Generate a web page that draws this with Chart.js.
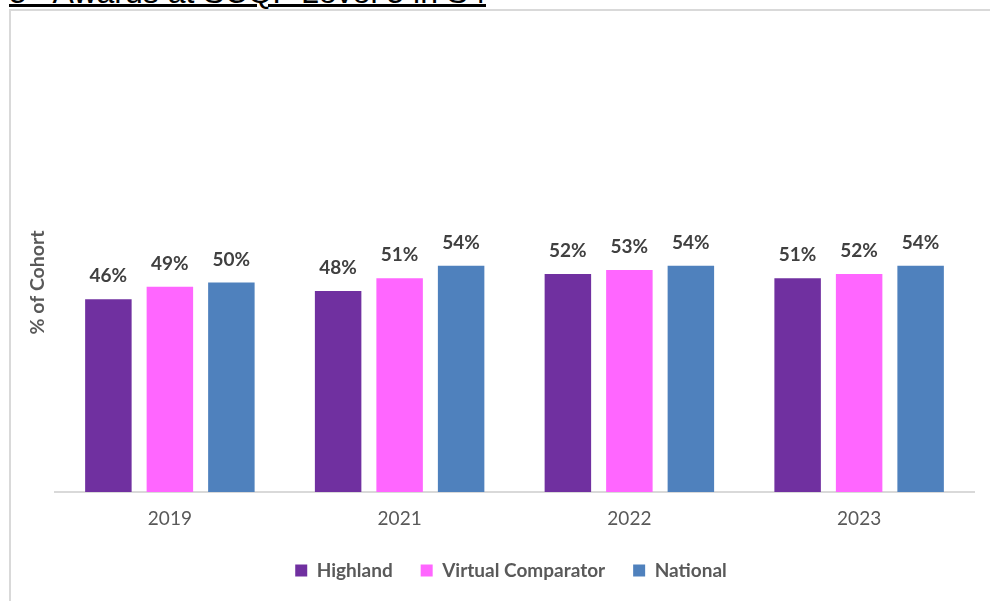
<!DOCTYPE html>
<html>
<head>
<meta charset="utf-8">
<script src="https://cdn.jsdelivr.net/npm/chart.js@4"></script>
<style>
  html, body { margin: 0; padding: 0; background: #fff; overflow: hidden; }
  #wrap { position: relative; width: 990px; height: 601px; }
  #frame { position: absolute; left: 9px; top: 9px; width: 990px; height: 600px;
           border-left: 2px solid #d9d9d9; border-top: 2px solid #d9d9d9; }
  #titre { position: absolute; left: 9px; top: -24px; font: 32px "Liberation Sans", Arial, sans-serif;
           line-height: 32px; color: #000; text-decoration: underline; text-decoration-thickness: 3px;
           text-underline-offset: 1px; white-space: nowrap; }
  #grafico { position: absolute; left: 0; top: 0; }
</style>
</head>
<body>
<div id="wrap">
  <div id="frame"></div>
  <div id="titre">5+ Awards at SCQF Level 5 in S4</div>
  <canvas id="grafico" width="990" height="601"></canvas>
</div>
<script>
// Datos
const anios = ["2019", "2021", "2022", "2023"];
const highland = [46, 48, 52, 51];
const comparador = [49, 51, 53, 52];
const nacional = [50, 54, 54, 54];

const gris = "#595959";

// Etiquetas de valor encima de cada barra
const etiquetas = {
  id: "etiquetas",
  afterDatasetsDraw(chart) {
    const ctx = chart.ctx;
    ctx.save();
    ctx.font = "bold 19px Lato";
    ctx.fillStyle = "#404040";
    ctx.textAlign = "center";
    ctx.textBaseline = "alphabetic";
    chart.data.datasets.forEach((ds, i) => {
      chart.getDatasetMeta(i).data.forEach((bar, j) => {
        ctx.fillText(ds.data[j] + "%", bar.x, bar.y - 17);
      });
    });
    ctx.restore();
  }
};

const ctx = document.getElementById("grafico").getContext("2d");
new Chart(ctx, {
  type: "bar",
  data: {
    labels: anios,
    datasets: [
      { label: "Highland", data: highland, backgroundColor: "#7030A0" },
      { label: "Virtual Comparator", data: comparador, backgroundColor: "#FF66FF" },
      { label: "National", data: nacional, backgroundColor: "#4F81BD" }
    ]
  },
  options: {
    responsive: false,
    animation: false,
    layout: { padding: { left: 48, right: 16, top: 73, bottom: 11 } },
    datasets: { bar: { categoryPercentage: 0.803, barPercentage: 0.756 } },
    scales: {
      x: {
        grid: { display: false, drawTicks: false },
        border: { display: true, color: "#d9d9d9", width: 2 },
        ticks: { color: gris, font: { family: "Lato", size: 19 }, padding: 15 },
        afterFit: (s) => { s.height = 41; }
      },
      y: {
        min: 0,
        max: 100,
        grid: { display: false, drawTicks: false },
        border: { display: false },
        ticks: { display: false },
        title: {
          display: true,
          text: "% of Cohort",
          color: gris,
          font: { family: "Lato", size: 19.5, weight: "bold" },
          padding: { top: -22, bottom: 0 }
        },
        afterFit: (s) => { s.width = 7; }
      }
    },
    plugins: {
      legend: {
        position: "bottom",
        labels: {
          boxWidth: 12,
          boxHeight: 12,
          padding: 28,
          color: gris,
          font: { family: "Lato", size: 19, weight: "bold" }
        }
      },
      tooltip: { enabled: false }
    }
  },
  plugins: [etiquetas]
});
</script>
</body>
</html>
